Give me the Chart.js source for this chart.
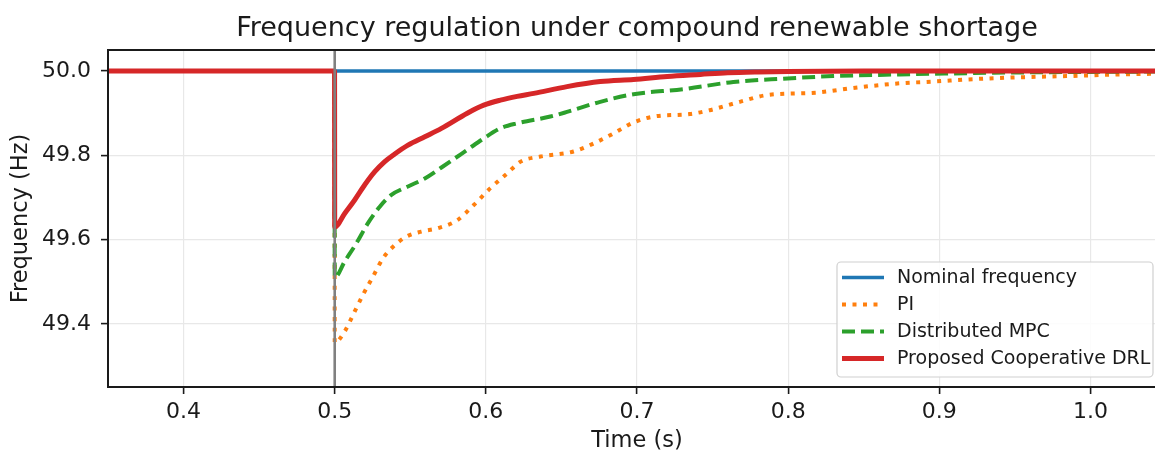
<!DOCTYPE html>
<html>
<head>
<meta charset="utf-8">
<script src="https://cdn.jsdelivr.net/npm/chart.js@4.4.1/dist/chart.umd.min.js"></script>
<style>
  html, body { margin: 0; padding: 0; background: #fff; overflow: hidden; }
  #wrap { width: 1155px; height: 451px; overflow: hidden; }
  canvas { display: block; }
</style>
</head>
<body>
<div id="wrap"><canvas id="freqChart" width="1180" height="451"></canvas></div>
<script>
const chartTitle = "Frequency regulation under compound renewable shortage";
const timeTicks = [0.4, 0.5, 0.6, 0.7, 0.8, 0.9, 1.0];
const freqTicks = [49.4, 49.6, 49.8, 50.0];
const eventTime = 0.5;

const nominalTime = [0.35, 1.05];
const nominalFreq = [50.0, 50.0];

const piTime = [0.35, 0.4999, 0.5, 0.5066, 0.5121, 0.5187, 0.5253, 0.532, 0.5386, 0.5474, 0.5573, 0.5683, 0.5811,
  0.592, 0.603, 0.6141, 0.623, 0.6361, 0.658, 0.6713, 0.6845, 0.6977, 0.711, 0.735, 0.748, 0.768,
  0.786, 0.819, 0.841, 0.874, 0.896, 0.918, 0.951, 0.984, 1.019, 1.05];
const piFreq = [50.0, 50.0, 49.355, 49.382, 49.421, 49.469, 49.512, 49.556, 49.583, 49.607, 49.619, 49.627, 49.646,
  49.682, 49.722, 49.757, 49.785, 49.797, 49.809, 49.828, 49.852, 49.878, 49.892, 49.898, 49.907, 49.927,
  49.943, 49.949, 49.959, 49.971, 49.975, 49.98, 49.985, 49.988, 49.992, 49.994];

const mpcTime = [0.35, 0.4999, 0.5, 0.5066, 0.5143, 0.522, 0.5298, 0.5375, 0.5485, 0.5596, 0.5706, 0.5877, 0.5986,
  0.6096, 0.6207, 0.6427, 0.6537, 0.6757, 0.6977, 0.7307, 0.7637, 0.7968, 0.8298, 0.874, 0.918, 0.96, 1.0, 1.05];
const mpcFreq = [50.0, 50.0, 49.51, 49.548, 49.591, 49.639, 49.678, 49.706, 49.726, 49.745, 49.771, 49.813, 49.84,
  49.864, 49.876, 49.892, 49.903, 49.927, 49.945, 49.957, 49.974, 49.982, 49.988, 49.992, 49.995, 49.997, 49.998, 49.999];

const drlTime = [0.35, 0.4999, 0.5, 0.5066, 0.5132, 0.5199, 0.5265, 0.5331, 0.5397, 0.5485, 0.5596, 0.5706,
  0.5877, 0.5986, 0.6096, 0.6207, 0.6317, 0.6537, 0.6757, 0.6977, 0.72, 0.742, 0.76, 0.78, 0.8, 0.85, 1.05];
const drlFreq = [50.0, 50.0, 49.63, 49.662, 49.694, 49.73, 49.761, 49.785, 49.803, 49.824, 49.844, 49.864,
  49.9, 49.919, 49.931, 49.94, 49.947, 49.963, 49.975, 49.98, 49.987, 49.992, 49.996, 49.998, 49.999, 50.0, 50.0];

const seriesLabels = ["Nominal frequency", "PI", "Distributed MPC", "Proposed Cooperative DRL"];

function toPoints(times, values) {
  return times.map((t, i) => ({ x: t, y: values[i] }));
}

const FONT = "'DejaVu Sans', sans-serif";
const INK = "#1a1a1a";

const frameAndLegend = {
  id: "frameAndLegend",
  afterDatasetsDraw(chart) {
    const { ctx, chartArea, scales } = chart;

    // disturbance marker
    const xEvent = scales.x.getPixelForValue(eventTime);
    ctx.save();
    ctx.strokeStyle = "#808080";
    ctx.lineWidth = 2.6;
    ctx.beginPath();
    ctx.moveTo(xEvent, chartArea.top);
    ctx.lineTo(xEvent, chartArea.bottom);
    ctx.stroke();
    ctx.restore();

    // axes frame
    ctx.save();
    ctx.strokeStyle = INK;
    ctx.lineWidth = 2;
    ctx.strokeRect(chartArea.left, chartArea.top, chartArea.right - chartArea.left, chartArea.bottom - chartArea.top);
    ctx.restore();
  },
  afterDraw(chart) {
    const { ctx, chartArea } = chart;

    // title, centred over the plot area
    ctx.save();
    ctx.font = "27px " + FONT;
    ctx.fillStyle = INK;
    ctx.textAlign = "center";
    ctx.textBaseline = "alphabetic";
    ctx.fillText(chartTitle, (chartArea.left + chartArea.right) / 2, 36);
    ctx.restore();

    // legend, lower right inside the axes
    const boxLeft = 837, boxTop = 262, boxRight = 1153, boxBottom = 377;
    ctx.save();
    ctx.globalAlpha = 0.85;
    ctx.fillStyle = "#ffffff";
    ctx.beginPath();
    ctx.roundRect(boxLeft, boxTop, boxRight - boxLeft, boxBottom - boxTop, 4);
    ctx.fill();
    ctx.globalAlpha = 1;
    ctx.strokeStyle = "#d0d0d0";
    ctx.lineWidth = 1.2;
    ctx.stroke();

    ctx.font = "19px " + FONT;
    ctx.textBaseline = "middle";
    ctx.fillStyle = INK;
    chart.data.datasets.forEach((ds, row) => {
      const y = 277.5 + row * 27;
      ctx.save();
      ctx.strokeStyle = ds.borderColor;
      ctx.lineWidth = ds.borderWidth;
      ctx.setLineDash(ds.borderDash || []);
      ctx.beginPath();
      ctx.moveTo(842, y);
      ctx.lineTo(884, y);
      ctx.stroke();
      ctx.restore();
      ctx.fillText(ds.label, 897, y + 1);
    });
    ctx.restore();
  }
};

new Chart(document.getElementById("freqChart"), {
  type: "line",
  data: {
    datasets: [
      {
        label: seriesLabels[0],
        data: toPoints(nominalTime, nominalFreq),
        borderColor: "#1f77b4",
        borderWidth: 3.5,
        order: 4
      },
      {
        label: seriesLabels[1],
        data: toPoints(piTime, piFreq),
        borderColor: "#ff7f0e",
        borderWidth: 4,
        borderDash: [4, 6.5],
        order: 3
      },
      {
        label: seriesLabels[2],
        data: toPoints(mpcTime, mpcFreq),
        borderColor: "#2ca02c",
        borderWidth: 4,
        borderDash: [13, 6],
        order: 2
      },
      {
        label: seriesLabels[3],
        data: toPoints(drlTime, drlFreq),
        borderColor: "#d62728",
        borderWidth: 5,
        order: 1
      }
    ]
  },
  options: {
    responsive: false,
    animation: false,
    events: [],
    elements: {
      point: { radius: 0 },
      line: { cubicInterpolationMode: "monotone", borderCapStyle: "butt", borderJoinStyle: "round" }
    },
    layout: { padding: { left: 0, right: 14, top: 50, bottom: 0 } },
    plugins: {
      legend: { display: false },
      tooltip: { enabled: false },
      title: { display: false }
    },
    scales: {
      x: {
        type: "linear",
        min: 0.35,
        max: 1.05,
        afterBuildTicks: (scale) => {
          scale.ticks = timeTicks.map((v) => ({ value: v }));
        },
        afterFit: (scale) => {
          scale.height = 64;
        },
        ticks: {
          color: INK,
          font: { family: FONT, size: 22 },
          padding: 5,
          maxRotation: 0,
          callback: (v) => Number(v).toFixed(1)
        },
        grid: {
          color: "#e8e8e8",
          lineWidth: 1.2,
          tickColor: INK,
          tickLength: 7,
          tickWidth: 1.6
        },
        border: { display: false },
        title: {
          display: true,
          text: "Time (s)",
          color: INK,
          font: { family: FONT, size: 22.5, lineHeight: 1 },
          padding: { top: 0, bottom: -1 }
        }
      },
      y: {
        type: "linear",
        min: 49.25,
        max: 50.05,
        afterBuildTicks: (scale) => {
          scale.ticks = freqTicks.map((v) => ({ value: v }));
        },
        afterFit: (scale) => {
          scale.width = 108;
        },
        ticks: {
          color: INK,
          font: { family: FONT, size: 22 },
          padding: 10,
          callback: (v) => Number(v).toFixed(1)
        },
        grid: {
          color: "#e8e8e8",
          lineWidth: 1.2,
          tickColor: INK,
          tickLength: 7,
          tickWidth: 1.6
        },
        border: { display: false },
        title: {
          display: true,
          text: "Frequency (Hz)",
          color: INK,
          font: { family: FONT, size: 22.5, lineHeight: 1.2 },
          padding: { top: 8, bottom: 0 }
        }
      }
    }
  },
  plugins: [frameAndLegend]
});
</script>
</body>
</html>
